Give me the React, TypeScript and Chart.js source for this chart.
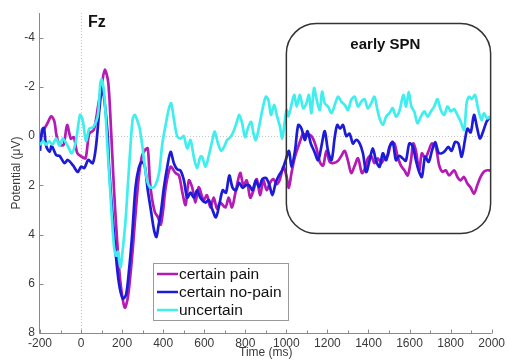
import React, { useEffect, useRef } from "react";
import { Chart, registerables } from "chart.js";

Chart.register(...registerables);

// ---------- data ----------
const seriesLabels = ["certain pain", "certain no-pain", "uncertain"];
const seriesColors = ["#b41ab4", "#1c1cd8", "#40eeee"];

const painMs = [-200,-185,-165,-145,-130,-120,-105,-85,-68,-50,-35,-18,5,22,40,62,84,103,116,132,144,160,176,192,213,229,249,265,281,297,313,325,335,345,360,375,388,400,412,436,460,477,493,509,525,541,557,573,597,613,630,646,662,678,703,719,735,751,775,791,807,824,840,856,872,888,904,920,937,953,969,985,1000,1012,1025,1042,1066,1082,1098,1114,1130,1147,1163,1179,1195,1211,1228,1252,1268,1284,1300,1316,1333,1349,1368,1381,1397,1413,1429,1445,1462,1478,1494,1510,1526,1542,1558,1575,1591,1607,1618,1631,1647,1660,1676,1693,1709,1728,1744,1760,1776,1793,1817,1833,1849,1865,1882,1898,1914,1930,1946,1962,1978,1994];
const painUv = [0.1,-0.2,-0.5,-0.8,-0.6,-0.05,0.35,0.35,-0.45,0.1,0.05,0.7,0.85,0.9,-0.1,-0.25,-1.27,-2.2,-2.7,-2.2,-0.6,2.1,4.3,5.95,6.97,6.5,4.86,3.2,1.7,0.8,0.55,0.5,1.8,2.5,3.1,3.3,3.6,3.0,2.1,1.25,1.5,1.6,2.27,2.8,1.8,2.07,2.7,2.07,2.6,2.4,2.9,2.5,2.95,2.7,2.9,2.5,2.9,2.34,1.5,2.0,1.8,2.5,2.2,1.75,2.4,1.8,2.2,1.9,1.75,1.95,1.75,1.25,1.6,2.1,1.5,0.84,0.23,-0.1,0.0,-0.05,0.1,0.5,1.05,1.2,0.6,1.05,1.1,1.0,0.8,0.6,1.0,1.5,1.2,0.9,1.5,1.35,0.9,0.8,1.1,0.9,1.1,0.9,0.8,0.3,0.3,0.84,1.2,1.39,1.6,0.98,0.3,0.6,1.39,0.7,0.9,0.6,0.3,0.45,1.18,1.45,1.39,1.6,1.39,1.66,1.8,1.66,1.93,2.1,2.34,2.0,1.66,1.45,1.39,1.4];

const noPainMs = [-200,-190,-181,-170,-153,-143,-121,-105,-81,-65,-40,-16,0,16,35,57,73,89,102,113,129,136,152,168,184,203,219,233,249,265,281,297,310,325,340,355,367,378,388,404,420,436,452,468,484,501,517,533,549,565,581,606,622,638,657,673,690,706,722,738,754,770,787,803,819,835,851,867,883,900,916,932,948,964,980,996,1013,1025,1042,1058,1074,1090,1103,1119,1135,1155,1171,1187,1203,1220,1236,1248,1262,1276,1292,1308,1324,1340,1357,1373,1389,1405,1421,1437,1454,1470,1486,1502,1518,1534,1550,1566,1582,1599,1615,1631,1644,1660,1676,1693,1709,1725,1741,1757,1773,1789,1805,1822,1838,1854,1870,1882,1898,1914,1930,1943,1959,1975,1991];
const noPainUv = [0.6,-0.25,-0.33,0.4,0.64,0.4,0.78,0.8,1.1,0.97,1.18,1.46,1.24,1.3,0.97,1.1,0.4,-1.06,-1.95,-1.5,-0.1,1.18,3.1,4.7,5.95,6.6,6.45,5.5,4.0,2.1,1.3,1.05,1.2,2.2,3.0,3.8,4.1,3.6,3.15,2.07,1.25,0.64,1.1,1.35,1.4,1.8,2.5,2.3,2.5,2.2,2.5,2.7,2.6,2.95,3.3,2.8,2.2,2.3,1.6,2.1,2.2,1.9,2.1,2.0,2.0,2.2,1.8,2.07,1.75,1.7,1.95,2.4,1.9,1.6,1.39,1.0,0.6,1.25,0.6,-0.45,-0.3,0.16,-0.2,0.3,0.6,0.98,0.4,-0.2,0.6,0.98,0.03,-0.45,-0.3,-0.45,0.0,-0.1,0.3,0.15,0.3,0.7,1.46,1.0,0.5,1.0,1.25,0.7,0.98,0.44,0.24,0.98,0.8,0.9,1.0,0.3,0.4,0.98,1.39,1.66,0.84,1.05,0.6,0.24,0.67,0.7,0.6,0.44,0.6,0.24,0.3,0.84,0.16,-0.3,-0.15,-0.86,-0.3,0.1,-0.2,-0.58,-0.78];

const uncertainMs = [-200,-185,-170,-155,-140,-121,-105,-89,-65,-45,-25,-5,8,24,40,60,81,94,100,113,128,144,160,171,179,192,200,216,229,241,252,262,276,286,300,317,330,347,362,380,396,412,428,439,452,468,484,500,517,533,549,565,581,590,606,622,638,651,667,683,699,711,727,743,759,770,783,799,812,828,840,851,867,883,900,913,925,941,953,969,980,990,1001,1010,1020,1038,1050,1066,1082,1098,1110,1122,1135,1147,1163,1174,1187,1203,1220,1236,1252,1268,1284,1300,1316,1333,1349,1365,1381,1397,1413,1429,1442,1454,1470,1486,1502,1518,1534,1550,1570,1583,1596,1609,1623,1639,1655,1672,1688,1704,1720,1736,1752,1769,1785,1801,1817,1833,1849,1866,1878,1890,1903,1919,1935,1951,1962,1978,1994];
const uncertainUv = [0.37,0.2,0.35,0.2,0.35,0.1,0.4,0.1,0.4,0.7,0.2,-0.86,-0.65,0.2,-0.3,-0.37,-0.79,-2.15,-2.3,-1.7,0.37,2.5,4.45,4.86,4.7,5.33,4.86,3.5,1.87,0.37,-0.72,-0.86,-0.58,-0.3,0.5,1.6,2.0,2.1,2.0,1.5,0.3,-0.45,-1.13,-1.33,-0.7,0.0,0.1,0.0,0.5,0.16,0.84,1.3,0.84,0.84,1.25,0.8,0.23,-0.18,0.3,0.6,0.4,0.16,0.05,-0.2,-0.58,-0.86,-0.58,0.04,-0.3,-0.58,-0.1,0.16,-0.38,-1.06,-1.6,-1.45,-0.86,-1.27,-0.86,-0.38,0.1,-0.45,-1.06,-0.8,-1.1,-1.67,-1.2,-1.67,-1.13,-1.33,-1.67,-0.93,-1.95,-1.5,-1.06,-1.8,-1.33,-1.2,-0.93,-1.27,-1.6,-1.4,-1.27,-1.06,-1.47,-1.6,-1.2,-1.4,-1.5,-1.13,-1.33,-1.6,-1.13,-0.72,-0.45,-0.79,-0.93,-1.13,-0.79,-1.0,-1.67,-1.2,-1.8,-1.2,-1.0,-0.52,-0.79,-1.0,-0.79,-1.0,-1.2,-1.5,-1.06,-0.86,-1.2,-1.0,-1.1,-0.86,-0.59,-0.25,-1.33,-1.6,-1.5,-1.67,-1.06,-0.65,-0.93,-0.72,-0.79];

const xRange = [-200, 2000];
const yRange = [-5, 8];
const xTickStep = 200;
const xMinorStep = 100;
const yTickValues = [-4, -2, 0, 2, 4, 6, 8];
const channelLabel = "Fz";
const windowLabel = "early SPN";
const windowMs = [1000, 1995];
const windowUv = [-4.57, 3.96];
const xTitle = "Time (ms)";
const yTitle = "Potential (\u03bcV)";

const FONT = "'Liberation Sans', Arial, sans-serif";

function pts(ms: number[], uv: number[]) {
  return ms.map((m, i) => ({ x: m, y: uv[i] }));
}

const overlayPlugin = {
  id: "overlay",
  beforeDatasetsDraw(chart: any) {
    const { ctx, chartArea: a, scales } = chart;
    const x = scales.x;
    const y = scales.y;
    ctx.save();
    // dotted zero lines
    ctx.strokeStyle = "#c4c4c4";
    ctx.lineWidth = 1;
    ctx.setLineDash([1, 2]);
    const y0 = Math.round(y.getPixelForValue(0)) + 0.5;
    ctx.beginPath();
    ctx.moveTo(a.left, y0);
    ctx.lineTo(a.right, y0);
    ctx.stroke();
    const x0 = Math.round(x.getPixelForValue(0)) + 0.5;
    ctx.beginPath();
    ctx.moveTo(x0, a.top);
    ctx.lineTo(x0, a.bottom);
    ctx.stroke();
    ctx.setLineDash([]);
    // axes lines
    ctx.strokeStyle = "#8a8a8a";
    ctx.lineWidth = 1;
    const L = Math.round(a.left) - 0.5;
    const B = Math.round(a.bottom) + 0.5;
    ctx.beginPath();
    ctx.moveTo(L, a.top);
    ctx.lineTo(L, B);
    ctx.lineTo(a.right, B);
    ctx.stroke();
    // x ticks (inside)
    for (let v = xRange[0]; v <= xRange[1]; v += xMinorStep) {
      const px = Math.round(x.getPixelForValue(v)) + 0.5;
      const len = v % xTickStep === 0 ? 4 : 3;
      ctx.beginPath();
      ctx.moveTo(px, B);
      ctx.lineTo(px, B - len);
      ctx.stroke();
    }
    // y ticks (inside)
    for (const v of yTickValues) {
      const py = Math.round(y.getPixelForValue(v)) + 0.5;
      ctx.beginPath();
      ctx.moveTo(L, py);
      ctx.lineTo(L + 4, py);
      ctx.stroke();
    }
    ctx.restore();
  },
  afterDatasetsDraw(chart: any) {
    const { ctx, scales } = chart;
    const x = scales.x;
    const y = scales.y;
    ctx.save();
    // rounded window box
    const bl = x.getPixelForValue(windowMs[0]);
    const br = x.getPixelForValue(windowMs[1]);
    const bt = y.getPixelForValue(windowUv[0]);
    const bb = y.getPixelForValue(windowUv[1]);
    ctx.strokeStyle = "#333333";
    ctx.lineWidth = 1.5;
    ctx.beginPath();
    (ctx as any).roundRect(bl, bt, br - bl, bb - bt, 30);
    ctx.stroke();
    // window label
    ctx.fillStyle = "#111111";
    ctx.font = `bold 15px ${FONT}`;
    ctx.textBaseline = "alphabetic";
    ctx.textAlign = "left";
    ctx.fillText(windowLabel, bl + 64, bt + 25);
    // channel label
    ctx.font = `bold 16px ${FONT}`;
    ctx.fillText(channelLabel, x.getPixelForValue(0) + 7, 27);

    // legend
    const lx = 153, ly = 263, lw = 135, lh = 57;
    ctx.fillStyle = "#ffffff";
    ctx.fillRect(lx, ly, lw, lh);
    ctx.strokeStyle = "#9a9a9a";
    ctx.lineWidth = 1;
    ctx.strokeRect(lx + 0.5, ly + 0.5, lw, lh);
    ctx.font = `15.5px ${FONT}`;
    ctx.textBaseline = "middle";
    chart.data.datasets.forEach((ds: any, i: number) => {
      const ry = ly + 11 + i * 18;
      ctx.strokeStyle = ds.borderColor;
      ctx.lineWidth = 2.5;
      ctx.beginPath();
      ctx.moveTo(lx + 4, ry);
      ctx.lineTo(lx + 25, ry);
      ctx.stroke();
      ctx.fillStyle = "#111111";
      ctx.fillText(ds.label, lx + 26, ry + 1);
    });
    ctx.restore();
  },
};

export default function App() {
  const ref = useRef<HTMLCanvasElement | null>(null);
  useEffect(() => {
    if (!ref.current) return;
    const series = [
      pts(painMs, painUv),
      pts(noPainMs, noPainUv),
      pts(uncertainMs, uncertainUv),
    ];
    const chart = new Chart(ref.current, {
      type: "line",
      data: {
        datasets: series.map((d, i) => ({
          label: seriesLabels[i],
          data: d,
          borderColor: seriesColors[i],
          backgroundColor: seriesColors[i],
          borderWidth: 2.7,
          pointRadius: 0,
          tension: 0.3,
          fill: false,
          order: 2 - i,
        })),
      },
      options: {
        responsive: false,
        animation: false,
        layout: { padding: { left: 0, right: 15, top: 13, bottom: 0 } },
        plugins: {
          legend: { display: false },
          tooltip: { enabled: false },
        },
        scales: {
          x: {
            type: "linear",
            min: xRange[0],
            max: xRange[1],
            grid: { display: false, drawTicks: false },
            border: { display: false },
            ticks: {
              stepSize: xTickStep,
              font: { family: FONT, size: 12 },
              color: "#3a3a3a",
              padding: 3,
              maxRotation: 0,
              callback: (v: any) => String(v),
            },
            title: {
              display: true,
              text: xTitle,
              font: { family: FONT, size: 12 },
              color: "#3a3a3a",
              padding: { top: 0, bottom: 0 },
            },
            afterFit: (s: any) => {
              s.height = 27;
            },
          },
          y: {
            type: "linear",
            reverse: true,
            min: yRange[0],
            max: yRange[1],
            grid: { display: false, drawTicks: false },
            border: { display: false },
            afterBuildTicks: (s: any) => {
              s.ticks = yTickValues.map((v) => ({ value: v }));
            },
            ticks: {
              font: { family: FONT, size: 12 },
              color: "#3a3a3a",
              padding: 5,
              callback: (v: any) => String(v),
            },
            title: {
              display: true,
              text: yTitle,
              font: { family: FONT, size: 12 },
              color: "#3a3a3a",
              padding: { top: 9, bottom: 0 },
            },
            afterFit: (s: any) => {
              s.width = 40;
            },
          },
        },
      },
      plugins: [overlayPlugin],
    });
    return () => chart.destroy();
  }, []);
  return (
    <div style={{ position: "absolute", left: 0, top: 0, width: 508, height: 360, background: "#fff" }}>
      <canvas ref={ref} width={508} height={360} style={{ display: "block" }} />
    </div>
  );
}
